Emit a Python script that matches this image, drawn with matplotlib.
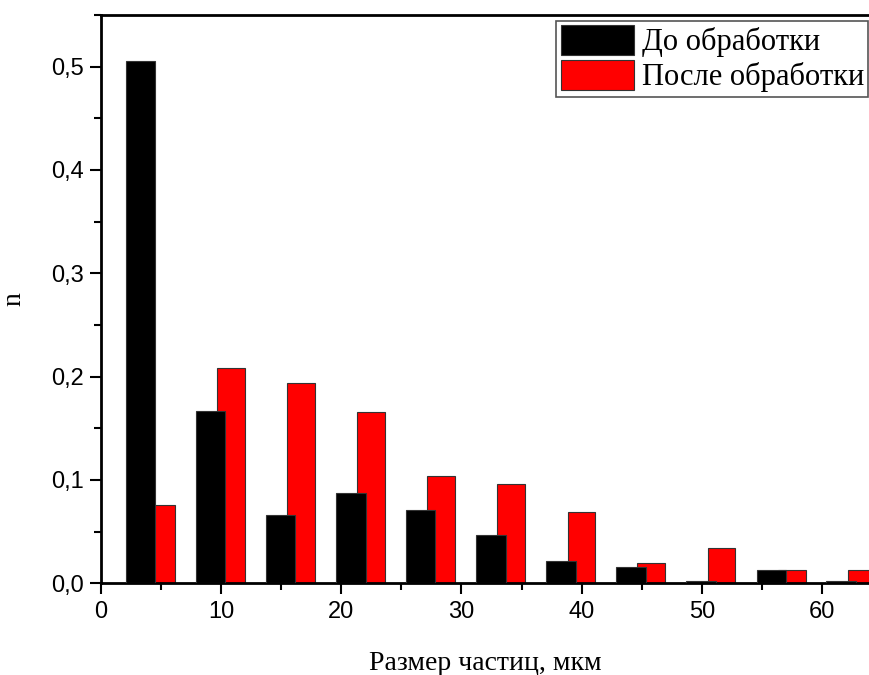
import matplotlib.pyplot as plt
from matplotlib.ticker import MultipleLocator, FuncFormatter

# bin centres (мкм) and fractions
sizes = [3.3, 9.1, 14.95, 20.8, 26.6, 32.45, 38.3, 44.1, 49.95, 55.8, 61.6]
before = [0.505, 0.167, 0.066, 0.087, 0.071, 0.047, 0.021, 0.016, 0.0026, 0.013, 0.0026]
after = [0.076, 0.208, 0.194, 0.166, 0.104, 0.096, 0.069, 0.020, 0.034, 0.013, 0.013]

labels = ['До обработки', 'После обработки']

fig = plt.figure(figsize=(8.7, 6.75), dpi=100)
ax = fig.add_axes([0.116, 0.136, 0.884, 0.842])

# red drawn first, black sits on top of it
ax.bar([s + 1.7 for s in sizes], after, width=2.3, color='#ff0000',
       edgecolor='#333333', linewidth=0.8, label=labels[1], zorder=2)
ax.bar(sizes, before, width=2.45, color='black',
       edgecolor='#333333', linewidth=0.8, label=labels[0], zorder=3)

ax.set_xlim(0, 64)
ax.set_ylim(0, 0.55)

ax.xaxis.set_major_locator(MultipleLocator(10))
ax.xaxis.set_minor_locator(MultipleLocator(5))
ax.yaxis.set_major_locator(MultipleLocator(0.1))
ax.yaxis.set_minor_locator(MultipleLocator(0.05))
ax.yaxis.set_major_formatter(FuncFormatter(lambda v, p: f'{v:.1f}'.replace('.', ',')))

ax.tick_params(which='both', direction='out', top=False, right=False, width=1.5)
ax.tick_params(which='major', length=8)
ax.tick_params(which='minor', length=5)
ax.tick_params(axis='x', labelsize=17, pad=5)
ax.tick_params(axis='y', labelsize=17, pad=4)
for t in ax.get_xticklabels() + ax.get_yticklabels():
    t.set_family('Liberation Sans')

for side in ['left', 'bottom', 'top']:
    ax.spines[side].set_linewidth(2)
ax.spines['right'].set_visible(False)

ax.set_xlabel('Размер частиц, мкм', family='Liberation Serif', fontsize=20, labelpad=20)
ax.set_ylabel('n', family='Liberation Serif', fontsize=20, labelpad=18)

h, l = ax.get_legend_handles_labels()
leg = ax.legend(h[::-1], l[::-1], loc='upper right', bbox_to_anchor=(0.998, 0.99),
                prop={'family': 'Liberation Serif', 'size': 22},
                fancybox=False, framealpha=1, edgecolor='#555555',
                handlelength=2.4, handleheight=1.12, labelspacing=0.08,
                handletextpad=0.25, borderpad=0.15, borderaxespad=0.0)
leg.get_frame().set_linewidth(1.2)

fig.savefig('out.png', dpi=100)
